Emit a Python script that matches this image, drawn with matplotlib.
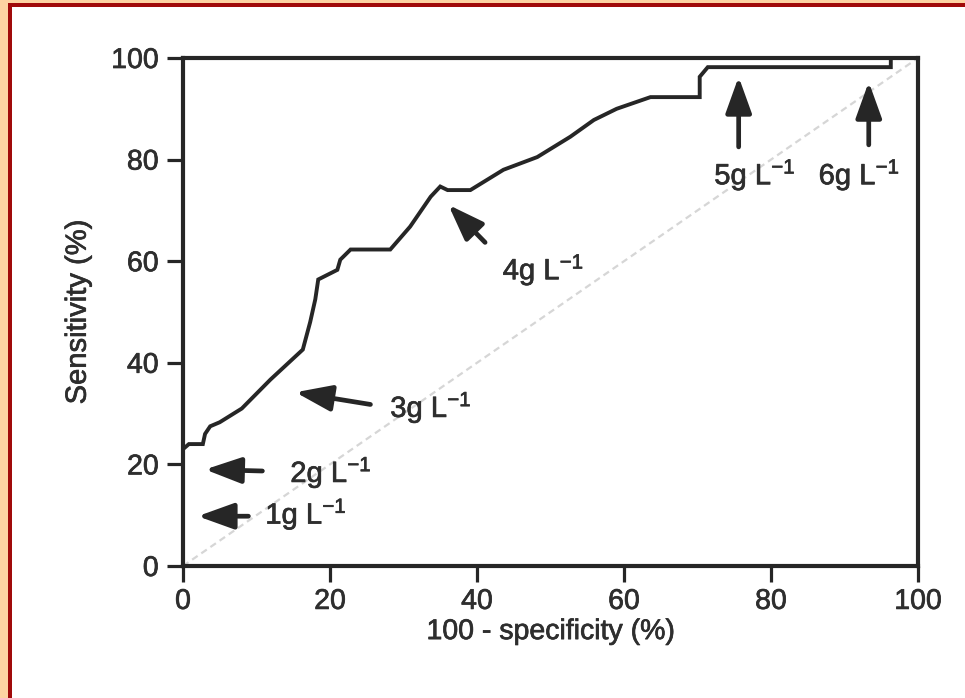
import matplotlib
matplotlib.use("Agg")
import matplotlib.pyplot as plt
import matplotlib.patheffects as pe
from matplotlib.patches import Rectangle

plt.rcParams['font.family'] = ['Liberation Sans', 'DejaVu Sans']
plt.rcParams['mathtext.default'] = 'regular'

# ROC curve
fpr = [0, 0, 0.8, 2.7, 3.0, 3.7, 5.0, 8.0, 11.9, 16.3, 17.3, 18.0, 18.4, 21.0,
       21.4, 22.8, 28.2, 30.9, 33.7, 35.0, 36.0, 39.1, 43.6, 48.2, 52.7, 55.9,
       59.0, 63.6, 70.3, 70.3, 71.4, 96.3, 96.3, 100]
tpr = [0, 23, 24, 24, 26, 27.5, 28.3, 31.0, 36.7, 42.6, 48.0, 52.5, 56.4, 58.3,
       60.3, 62.3, 62.3, 66.8, 72.7, 74.7, 74.0, 74.0, 78.0, 80.5, 84.5, 87.8,
       90.0, 92.3, 92.3, 96.3, 98.2, 98.2, 100, 100]
diag = [0, 100]

x_ticks = [0, 20, 40, 60, 80, 100]
y_ticks = [0, 20, 40, 60, 80, 100]

# annotations: label, arrow tip (x, y), arrow tail (x, y), text anchor
ann_labels = ['1g L$^{-1}$', '2g L$^{-1}$', '3g L$^{-1}$', '4g L$^{-1}$', '5g L$^{-1}$', '6g L$^{-1}$']
ann_tips = [(2.0, 9.8), (3.0, 19.0), (15.3, 34.2), (36.1, 71.1), (75.6, 96.3), (93.3, 95.3)]
ann_tails = [(8.9, 9.8), (10.8, 18.7), (25.5, 31.8), (41.1, 63.7), (75.6, 82.5), (93.3, 82.9)]
ann_text_pos = [(11.2, 8.3), (14.6, 16.5), (28.2, 29.3), (43.5, 56.4), (77.8, 75.1), (92.0, 75.1)]
ann_ha = ['left', 'left', 'left', 'left', 'center', 'center']

ink = '#262626'
txt = '#2e2e2e'
heavy = [pe.withStroke(linewidth=0.5, foreground=txt)]

fig = plt.figure(figsize=(9.65, 6.98), dpi=100)
fig.patch.set_facecolor('white')

# outer frame (peach margin + dark red line on left and top)
fig.patches.append(Rectangle((0, 0), 8/965, 1, transform=fig.transFigure,
                             facecolor='#fdd3a2', edgecolor='none', zorder=0))
fig.patches.append(Rectangle((0, 1 - 3/698), 1, 3/698, transform=fig.transFigure,
                             facecolor='#fdd3a2', edgecolor='none', zorder=0))
fig.patches.append(Rectangle((8/965, 0), 4/965, 1 - 3/698, transform=fig.transFigure,
                             facecolor='#a00a0a', edgecolor='none', zorder=1))
fig.patches.append(Rectangle((8/965, 1 - 7/698), 1 - 8/965, 4/698, transform=fig.transFigure,
                             facecolor='#a00a0a', edgecolor='none', zorder=1))

ax = fig.add_axes([183/965, (698-566)/698, (918-183)/965, (566-58)/698])
ax.plot(diag, diag, color='#d6d6d6', lw=1.6, ls=(0, (3, 2)), zorder=1)
ax.plot(fpr, tpr, color=ink, lw=2.8, solid_joinstyle='miter', zorder=3, clip_on=False)

for lab, tip, tail, tp, ha in zip(ann_labels, ann_tips, ann_tails, ann_text_pos, ann_ha):
    ax.annotate('', xy=tip, xytext=tail,
                arrowprops=dict(arrowstyle='-|>,head_length=1.0,head_width=0.36',
                                lw=3.4, color=ink, shrinkA=0, shrinkB=0,
                                mutation_scale=22))
    ax.text(tp[0], tp[1], lab, ha=ha, va='baseline', fontsize=21, color=txt,
            path_effects=heavy)

ax.set_xlim(0, 100)
ax.set_ylim(0, 100)
ax.set_xticks(x_ticks)
ax.set_yticks(y_ticks)
ax.tick_params(direction='out', length=11.5, width=2.3, colors=ink, labelsize=20.5)
ax.tick_params(axis='y', pad=6)
ax.tick_params(axis='x', pad=5)
for lab in ax.get_xticklabels() + ax.get_yticklabels():
    lab.set_color(txt)
    lab.set_path_effects(heavy)
for s in ax.spines.values():
    s.set_linewidth(3.0)
    s.set_color(ink)
ax.set_xlabel('100 - specificity (%)', fontsize=20.5, color=txt, labelpad=3,
              path_effects=heavy)
ax.set_ylabel('Sensitivity (%)', fontsize=21, color=txt, labelpad=14,
              path_effects=heavy)

fig.savefig('out.png', dpi=100, facecolor=fig.get_facecolor())
